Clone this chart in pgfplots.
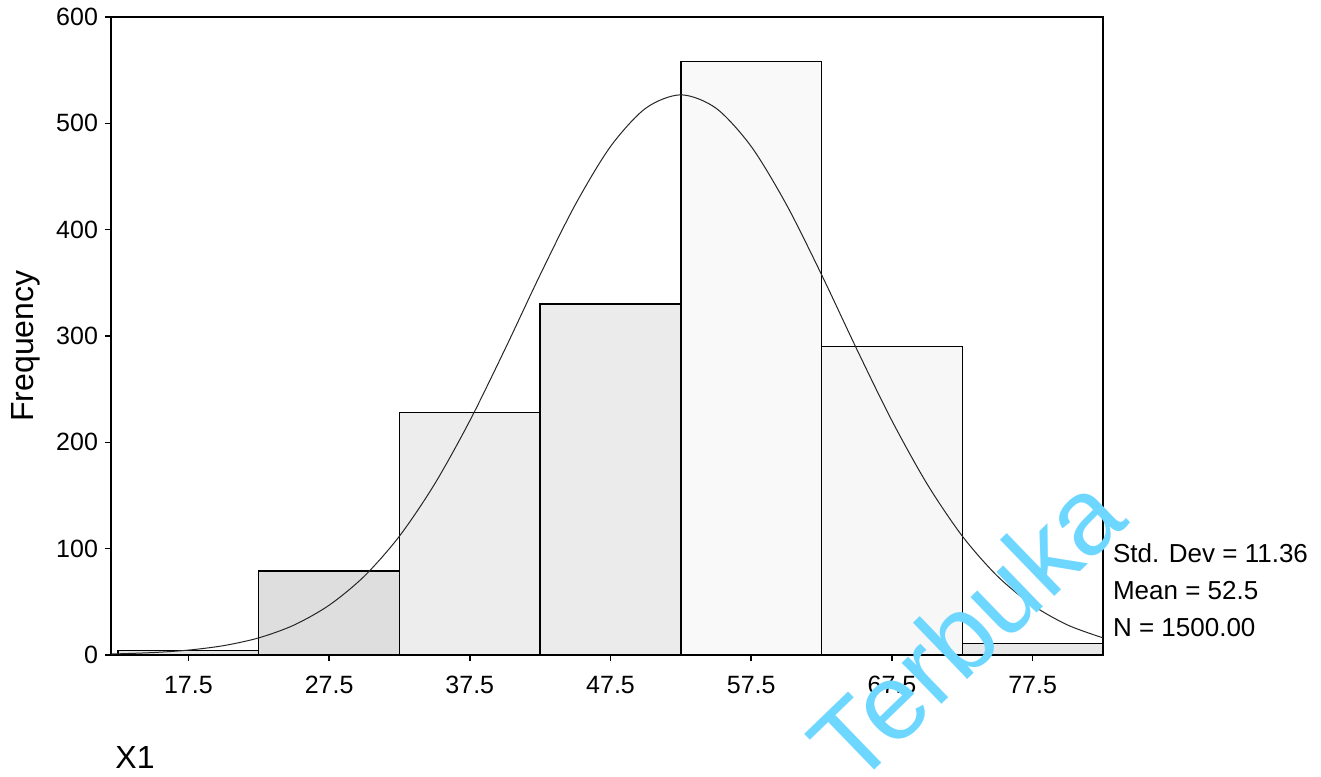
\documentclass[border=0pt]{standalone}
\usepackage{fontspec}
\setmainfont{Liberation Sans}
\usepackage{pgfplots}
\pgfplotsset{compat=1.18}
\definecolor{wm}{RGB}{110,215,255}
\begin{document}
\begin{tikzpicture}
\useasboundingbox (0,0) rectangle (660.5pt,388pt);
\begin{axis}[
  at={(55.5pt,60.5pt)}, anchor=south west,
  width=496pt, height=319pt, scale only axis,
  xmin=12, xmax=82.5, ymin=0, ymax=600,
  axis line style={line width=0.8pt},
  tick style={line width=0.8pt, black},
  tick align=outside, major tick length=3pt,
  xtick pos=bottom, ytick pos=left,
  xtick={17.5,27.5,37.5,47.5,57.5,67.5,77.5},
  xticklabels={17.5,27.5,37.5,47.5,57.5,67.5,77.5},
  ytick={0,100,200,300,400,500,600},
  /pgf/number format/assume math mode=true,
  ticklabel style={font=\fontsize{12.5}{14}\selectfont},
  xticklabel style={yshift=-4pt},
  clip=false,
]
\addplot[ybar interval, fill=gray!22, draw=black, line width=0.7pt] coordinates {(12.5,4) (22.5,4)};
\addplot[ybar interval, fill=gray!26, draw=black, line width=0.7pt] coordinates {(22.5,79) (32.5,79)};
\addplot[ybar interval, fill=gray!14, draw=black, line width=0.7pt] coordinates {(32.5,228) (42.5,228)};
\addplot[ybar interval, fill=gray!16, draw=black, line width=0.7pt] coordinates {(42.5,330) (52.5,330)};
\addplot[ybar interval, fill=gray!5, draw=black, line width=0.7pt] coordinates {(52.5,558) (62.5,558)};
\addplot[ybar interval, fill=gray!6, draw=black, line width=0.7pt] coordinates {(62.5,290) (72.5,290)};
\addplot[ybar interval, fill=gray!18, draw=black, line width=0.7pt] coordinates {(72.5,11) (82.5,11)};
\addplot[smooth, black!85, line width=0.5pt] coordinates {
(12,0.9) (15,2.3) (17.5,4.6) (20,8.8) (22.5,16.1) (25,28.1) (27.5,46.8) (30,74.1)
(32.5,111.8) (35,160.8) (37.5,220.3) (40,287.6) (42.5,357.6) (45,423.6) (47.5,478.2)
(50,514.2) (52.5,526.8) (55,514.2) (57.5,478.2) (60,423.6) (62.5,357.6) (65,287.6)
(67.5,220.3) (70,160.8) (72.5,111.8) (75,74.1) (77.5,46.8) (80,28.1) (82.5,16.1)};
\end{axis}
\node[rotate=90, font=\fontsize{16}{18}\selectfont] at (13pt,215pt) {Frequency};
\node[font=\fontsize{16}{18}\selectfont] at (67.5pt,9.5pt) {X1};
\node[anchor=west, font=\fontsize{13}{15}\selectfont] at (553pt,111.5pt) {Std. Dev = 11.36};
\node[anchor=west, font=\fontsize{13}{15}\selectfont] at (553pt,92.5pt) {Mean = 52.5};
\node[anchor=west, font=\fontsize{13}{15}\selectfont] at (553pt,74pt) {N = 1500.00};
\node[rotate=44, text=wm, font=\fontsize{54}{60}\selectfont] at (483pt,74pt) {Terbuka};
\end{tikzpicture}
\end{document}
